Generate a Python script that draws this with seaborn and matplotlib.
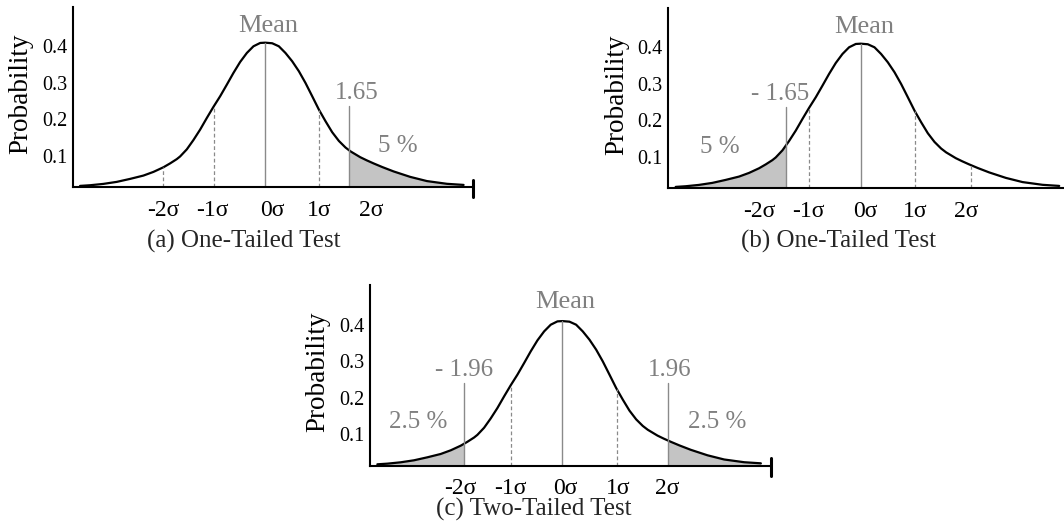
import numpy as np
import matplotlib.pyplot as plt
import seaborn as sns


# CURVE (x in sigma units, y in probability)

CURVE_X = [-3.558, -3.365, -3.109, -2.853, -2.596, -2.340, -2.147, -1.955, -1.827,
           -1.699, -1.635, -1.506, -1.379, -1.250, -1.121, -0.994, -0.865, -0.737,
           -0.610, -0.481, -0.352, -0.225, -0.096, 0.0, 0.135, 0.263, 0.390, 0.519,
           0.648, 0.775, 0.904, 1.033, 1.160, 1.288, 1.417, 1.544, 1.640, 1.827,
           1.950, 2.083, 2.250, 2.468, 2.788, 3.109, 3.494, 3.814]
CURVE_Y = [0.0178, 0.0196, 0.0233, 0.0288, 0.0370, 0.0461, 0.0562, 0.0689, 0.0795,
           0.0912, 0.0985, 0.1180, 0.1435, 0.1721, 0.2041, 0.2345, 0.2636, 0.2953,
           0.3274, 0.3575, 0.3822, 0.4005, 0.4096, 0.4104, 0.4088, 0.4005, 0.3822,
           0.3595, 0.3321, 0.3000, 0.2636, 0.2268, 0.1951, 0.1650, 0.1410, 0.1230,
           0.1125, 0.0965, 0.0880, 0.0795, 0.0695, 0.0575, 0.0425, 0.0310, 0.0235,
           0.0205]

Y_TICKS = [0.1, 0.2, 0.3, 0.4]
SIGMA_LABELS = ["-2σ", "-1σ", "0σ", "1σ", "2σ"]

# per panel: sigma label spots, dashed guide lines, critical values
SIGMA_POS_A = [-1.95, -1.01, 0.13, 1.03, 2.03]
SIGMA_POS_B = [-1.96, -1.01, 0.08, 1.04, 2.02]
SIGMA_POS_C = [-1.97, -1.01, 0.05, 1.07, 2.02]

DASHED_A = [-1.96, -0.98, 1.04]
DASHED_B = [-0.99, 1.04, 2.12]
DASHED_C = [-0.99, 1.04]

CRIT_A = [1.62]
CRIT_B = [-1.44]
CRIT_C = [-1.89, 2.03]

CRIT_TEXT_A = ["1.65"]
CRIT_TEXT_B = ["- 1.65"]
CRIT_TEXT_C = ["- 1.96", "1.96"]
CRIT_TEXT_X_A = [1.76]
CRIT_TEXT_X_B = [-1.56]
CRIT_TEXT_X_C = [-1.89, 2.07]

TAIL_TEXT_A = ["5 %"]
TAIL_TEXT_B = ["5 %"]
TAIL_TEXT_C = ["2.5 %", "2.5 %"]
TAIL_TEXT_X_A = [2.55]
TAIL_TEXT_X_B = [-2.71]
TAIL_TEXT_X_C = [-2.77, 2.97]

CAPTIONS = ["(a) One-Tailed Test", "(b) One-Tailed Test", "(c) Two-Tailed Test"]


sns.set_theme(style="white")
plt.rcParams["font.family"] = ["Liberation Serif", "DejaVu Serif"]

GRAY_TXT = "#808080"
GRAY_LN = "#8a8a8a"
FILL = "#c4c4c4"
Y0, Y1 = 0.014, 0.509
X0, X1 = -3.70, 4.0

cx = np.array(CURVE_X)
cy = np.array(CURVE_Y)


def draw_panel(ax, sigma_pos, dashed, crit, crit_text, crit_x, crit_y,
               tail_text, tail_x, tail_y, mean_y):
    # shaded tails
    for c in crit:
        if c > 0:
            xs = np.concatenate([[c], cx[cx > c]])
        else:
            xs = np.concatenate([cx[cx < c], [c]])
        ys = np.interp(xs, cx, cy)
        ax.fill_between(xs, Y0, ys, color=FILL, lw=0)

    sns.lineplot(x=cx, y=cy, ax=ax, color="black", lw=1.6, estimator=None,
                 solid_joinstyle="round", solid_capstyle="round")

    # mean line
    ax.plot([0, 0], [Y0, cy.max()], color=GRAY_LN, lw=1.0)
    # dashed sigma guides
    for d in dashed:
        ax.plot([d, d], [Y0, np.interp(d, cx, cy)], color=GRAY_LN, lw=0.9,
                ls=(0, (3, 2)))
    # critical lines
    for c in crit:
        ax.plot([c, c], [Y0, crit_y - 0.019], color=GRAY_LN, lw=1.0)

    for t, x in zip(crit_text, crit_x):
        ax.text(x, crit_y, t, ha="center", va="baseline", fontsize=18, color=GRAY_TXT)
    for t, x in zip(tail_text, tail_x):
        ax.text(x, tail_y, t, ha="center", va="baseline", fontsize=18, color=GRAY_TXT)
    ax.text(0.06, mean_y, "Mean", ha="center", va="baseline", fontsize=19, color=GRAY_TXT)

    ax.set_xlim(X0, X1)
    ax.set_ylim(Y0, Y1)
    sns.despine(ax=ax)
    for s in ("left", "bottom"):
        ax.spines[s].set_color("black")
        ax.spines[s].set_linewidth(1.5)

    ax.set_yticks(Y_TICKS)
    ax.set_yticklabels([f"{v:.1f}" for v in Y_TICKS], fontsize=14.5)
    ax.set_xticks(sigma_pos)
    ax.set_xticklabels(SIGMA_LABELS, fontsize=17)
    ax.tick_params(axis="y", length=0, pad=4, colors="black")
    ax.tick_params(axis="x", length=0, pad=9, colors="black")
    ax.set_xlabel("")
    ax.set_ylabel("Probability", fontsize=19.5, color="black")
    ax.yaxis.set_label_coords(-0.098, 0.52)

    # end tick of the x axis
    ax.plot([X1, X1], [-0.013, 0.034], color="black", lw=2.2, clip_on=False)


fig = plt.figure(figsize=(10.64, 5.28), dpi=100)
ax_a = fig.add_axes([0.0683, 0.6453, 0.3765, 0.342])
ax_b = fig.add_axes([0.6281, 0.6434, 0.3765, 0.342])
ax_c = fig.add_axes([0.3477, 0.1180, 0.3765, 0.342])

draw_panel(ax_a, SIGMA_POS_A, DASHED_A, CRIT_A, CRIT_TEXT_A, CRIT_TEXT_X_A, 0.256,
           TAIL_TEXT_A, TAIL_TEXT_X_A, 0.112, 0.44)
draw_panel(ax_b, SIGMA_POS_B, DASHED_B, CRIT_B, CRIT_TEXT_B, CRIT_TEXT_X_B, 0.256,
           TAIL_TEXT_B, TAIL_TEXT_X_B, 0.112, 0.44)
draw_panel(ax_c, SIGMA_POS_C, DASHED_C, CRIT_C, CRIT_TEXT_C, CRIT_TEXT_X_C, 0.26,
           TAIL_TEXT_C, TAIL_TEXT_X_C, 0.117, 0.447)

fig.text(0.2287, 0.5435, CAPTIONS[0], ha="center", va="center", fontsize=18)
fig.text(0.7876, 0.5435, CAPTIONS[1], ha="center", va="center", fontsize=18)
fig.text(0.5019, 0.0353, CAPTIONS[2], ha="center", va="center", fontsize=18)

fig.savefig("out.png", dpi=100)
